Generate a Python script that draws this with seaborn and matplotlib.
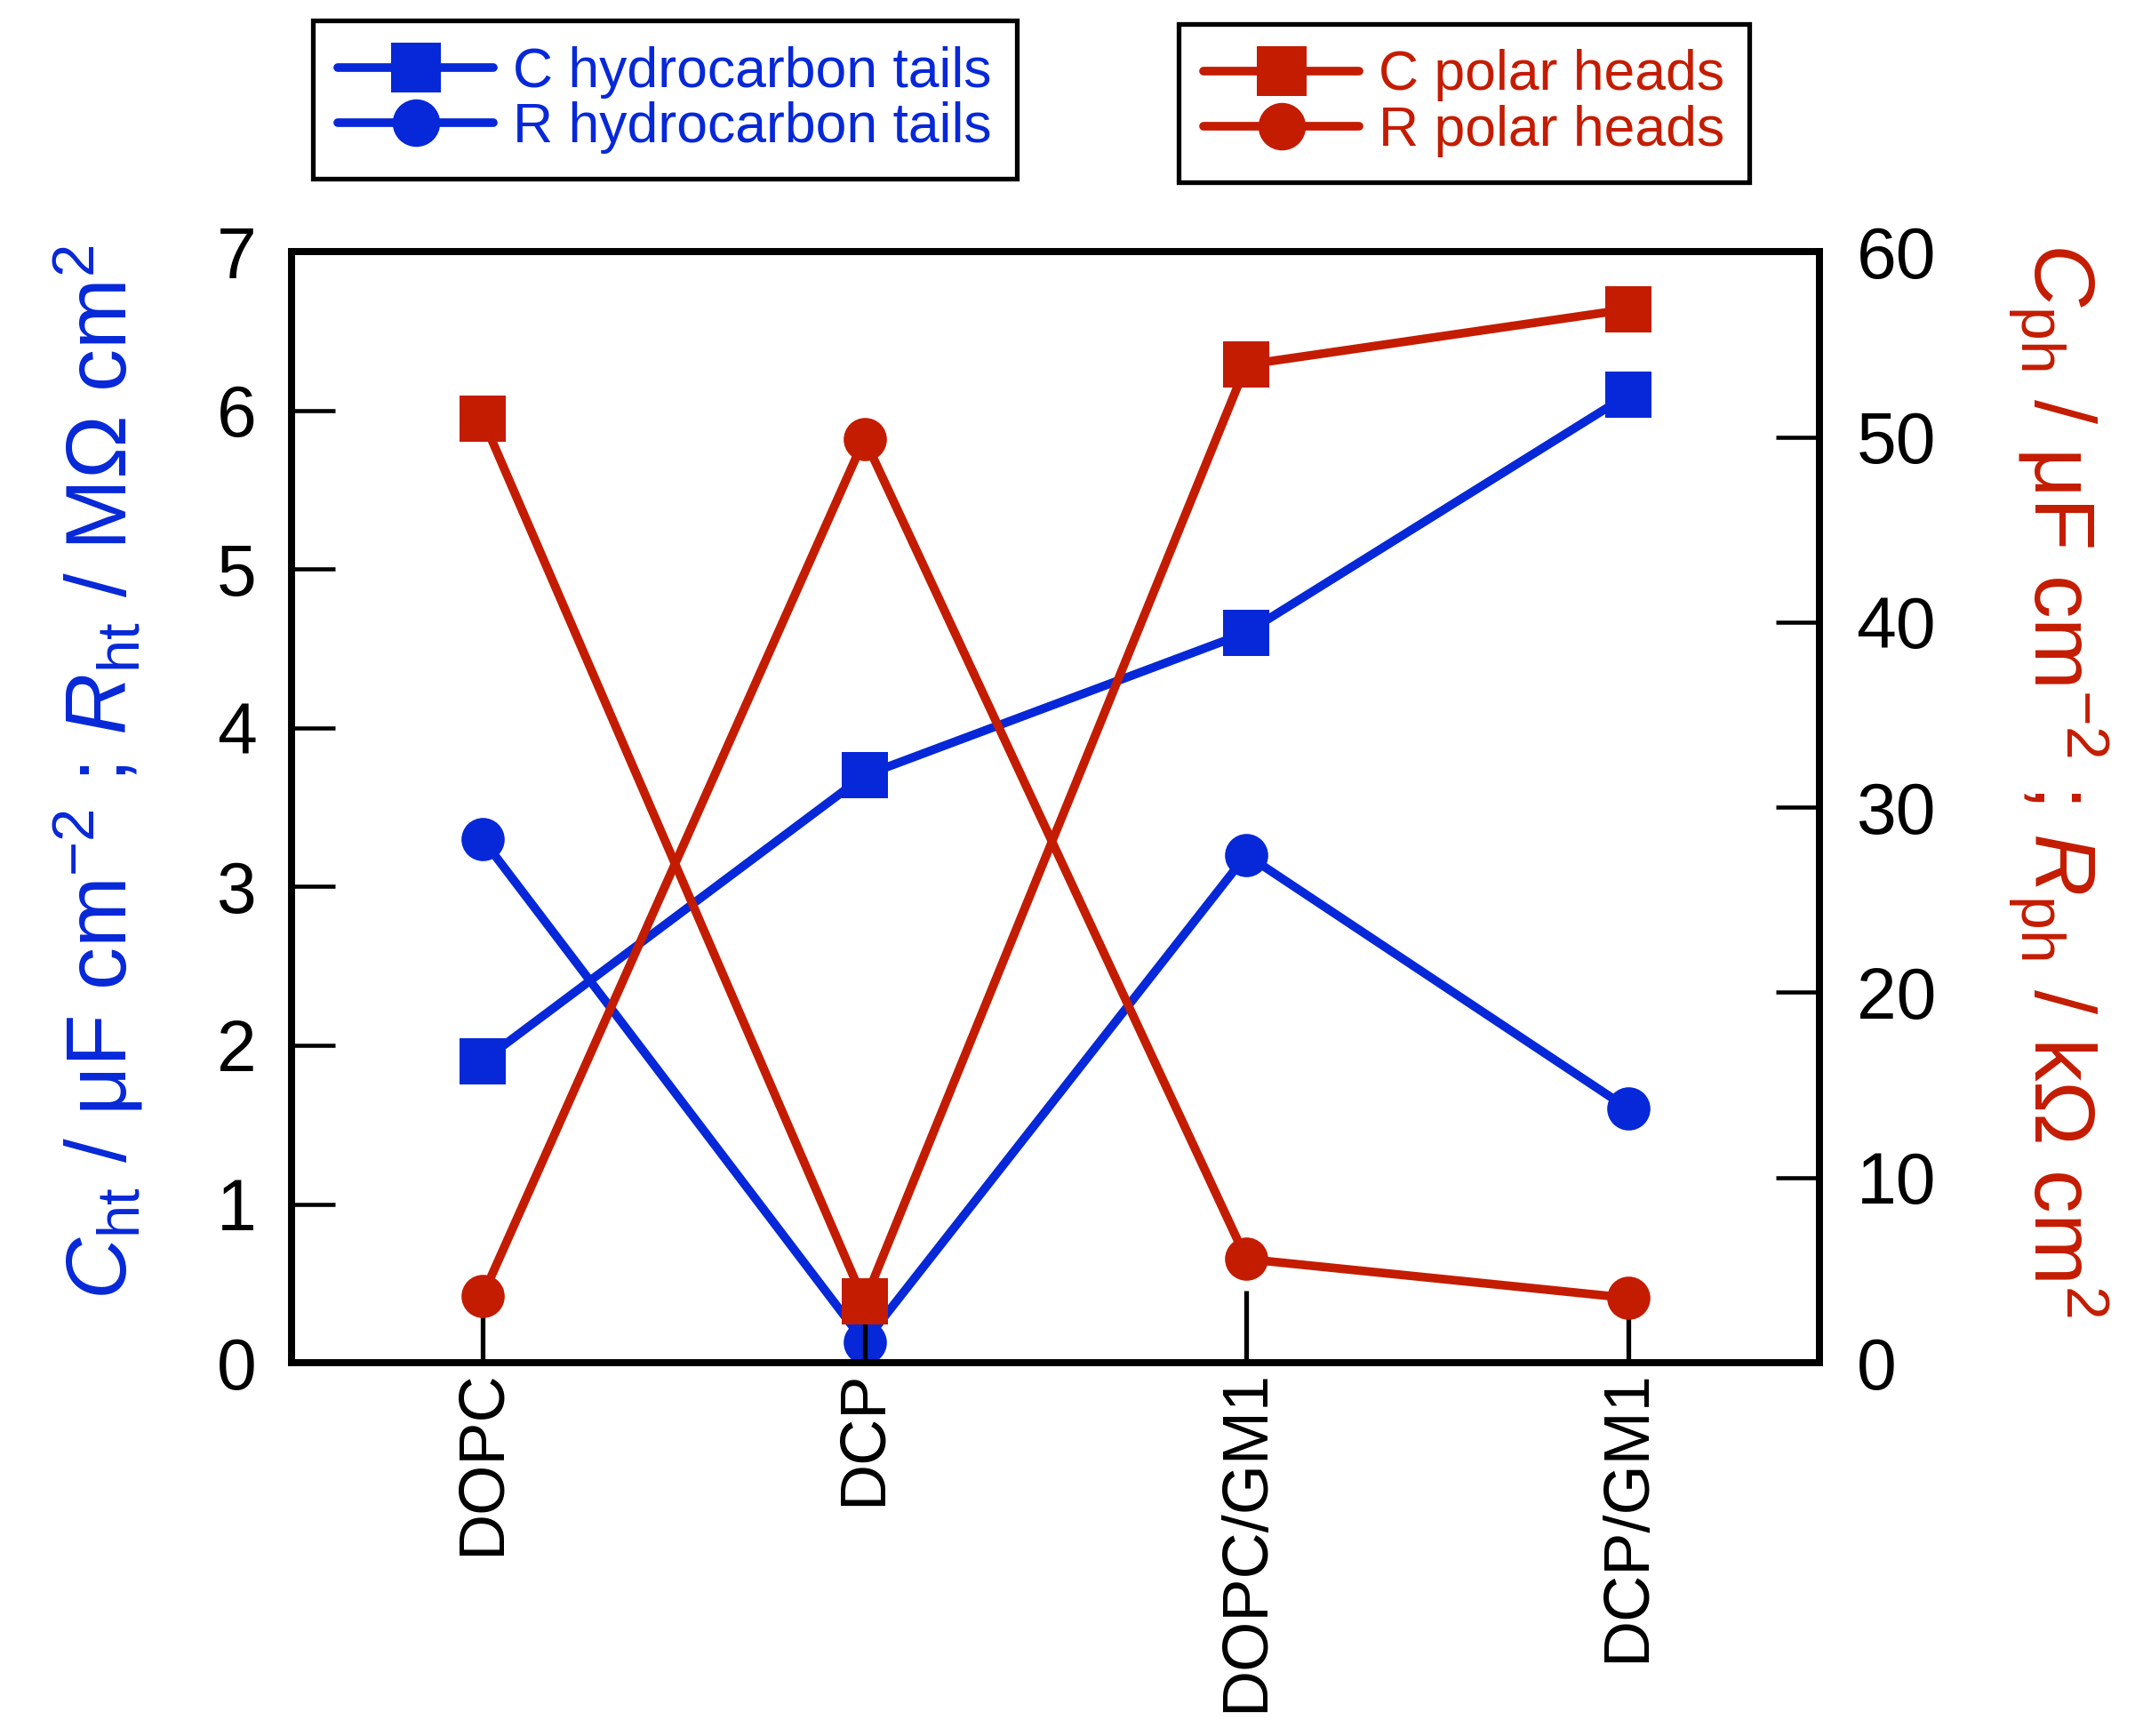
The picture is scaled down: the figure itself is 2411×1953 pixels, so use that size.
import matplotlib
matplotlib.use("Agg")
import matplotlib.pyplot as plt
import seaborn as sns
import pandas as pd

# lipid layers (x categories)
samples = ["DOPC", "DCP", "DOPC/GM1", "DCP/GM1"]
# hydrocarbon tails, left axis
c_tails = [1.9, 3.7, 4.6, 6.1]
r_tails = [3.3, 0.13, 3.2, 1.6]
# polar heads, right axis
c_heads = [51.0, 3.3, 53.9, 56.9]
r_heads = [3.6, 49.9, 5.6, 3.5]

blue = "#0628d8"
red = "#c41c00"

sns.set_style("ticks")
plt.rcParams["font.family"] = ["Liberation Sans", "DejaVu Sans"]
plt.rcParams["mathtext.fontset"] = "custom"
plt.rcParams["mathtext.rm"] = "Liberation Sans"
plt.rcParams["mathtext.it"] = "Liberation Sans:italic"
plt.rcParams["text.color"] = "black"
plt.rcParams["xtick.color"] = "black"
plt.rcParams["ytick.color"] = "black"

df = pd.DataFrame({"pos": range(len(samples)), "c_tails": c_tails, "r_tails": r_tails,
                   "c_heads": c_heads, "r_heads": r_heads})

fig = plt.figure(figsize=(24.11, 19.53), dpi=100)
ax = fig.add_axes([0.136, 0.215, 0.713, 0.64])
ax2 = ax.twinx()

sq_kw = dict(markersize=37, mew=0, linewidth=7, clip_on=False)
ci_kw = dict(markersize=35, mew=0, linewidth=7, clip_on=False)
sns.lineplot(data=df, x="pos", y="c_tails", ax=ax, color=blue, marker="s",
             label="C hydrocarbon tails", **sq_kw)
sns.lineplot(data=df, x="pos", y="r_tails", ax=ax, color=blue, marker="o",
             label="R hydrocarbon tails", **ci_kw)
sns.lineplot(data=df, x="pos", y="c_heads", ax=ax2, color=red, marker="s",
             label="C polar heads", **sq_kw)
sns.lineplot(data=df, x="pos", y="r_heads", ax=ax2, color=red, marker="o",
             label="R polar heads", **ci_kw)

ax.set_xlim(-0.5, 3.5)
ax.set_ylim(0, 7)
ax2.set_ylim(0, 60)
ax.set_xticks(range(len(samples)))
ax.set_xticklabels(samples, rotation=90)
for a in (ax, ax2):
    a.set_xlabel("")
    a.set_ylabel("")
ax2.set_yticks(range(0, 61, 10))

ax.tick_params(axis="y", direction="in", length=35, width=3.3, labelsize=58, pad=28)
ax.tick_params(axis="x", direction="in", bottom=False, labelsize=52, pad=6)
ax2.tick_params(axis="y", direction="in", length=35, width=3.3, labelsize=58, pad=30)
# x ticks on the twin so they sit over the markers
ax2.xaxis.set_visible(True)
ax2.tick_params(axis="x", direction="in", bottom=True, top=False, labelbottom=False,
                length=58, width=3.8)
for a in (ax, ax2):
    for s in a.spines.values():
        s.set_linewidth(5.5)
        s.set_color("black")

# legends above the axes
leg_kw = dict(loc="upper left", bbox_transform=fig.transFigure, fontsize=45,
              frameon=True, fancybox=False, edgecolor="black", framealpha=1,
              labelcolor="linecolor", handlelength=2.8, handletextpad=0.35,
              labelspacing=0.05, borderpad=0.45, borderaxespad=0, markerscale=1.1)
h1, l1 = ax.get_legend_handles_labels()
leg1 = ax.legend(h1, l1, bbox_to_anchor=(0.146, 0.988), **leg_kw)
leg1.get_frame().set_linewidth(3.8)
h2, l2 = ax2.get_legend_handles_labels()
leg2 = ax2.legend(h2, l2, bbox_to_anchor=(0.55, 0.986), **leg_kw)
leg2.get_frame().set_linewidth(3.8)

fig.text(0.046, 0.555, r"$C_{\mathrm{ht}}$ / μF cm$^{-2}$ ; $R_{\mathrm{ht}}$ / MΩ cm$^{2}$",
         rotation=90, ha="center", va="center", fontsize=69, color=blue)
fig.text(0.960, 0.551, r"$C_{\mathrm{ph}}$ / μF cm$^{-2}$ ; $R_{\mathrm{ph}}$ / kΩ cm$^{2}$",
         rotation=270, ha="center", va="center", fontsize=70, color=red)

fig.savefig("out.png", dpi=100)
